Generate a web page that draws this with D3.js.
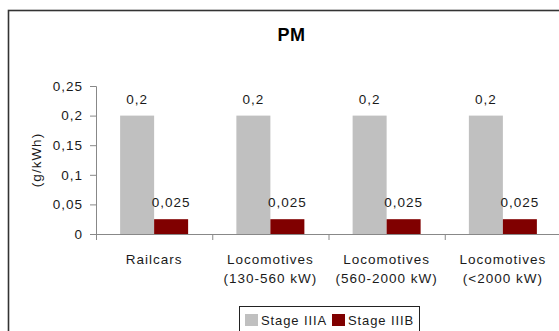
<!DOCTYPE html>
<html><head><meta charset="utf-8">
<script src="https://cdn.jsdelivr.net/npm/d3@7"></script>
<style>body{margin:0;background:#fff}svg{display:block;font-family:"Liberation Sans",Arial,sans-serif}</style>
</head><body><svg id="c" width="559" height="331"></svg>
<script>
const categories = [["Railcars"],["Locomotives","(130-560 kW)"],["Locomotives","(560-2000 kW)"],["Locomotives","(<2000 kW)"]];
const seriesNames = ["Stage IIIA","Stage IIIB"];
const stageIIIA = [0.2,0.2,0.2,0.2];
const stageIIIB = [0.025,0.025,0.025,0.025];
const yTicks = [0,0.05,0.1,0.15,0.2,0.25];
const colors = ["#c0c0c0","#800000"];
const fmt = v => String(v).replace(".", ",");
const FS = 13.5, LS = 1, TXT = "#1a1a1a";

const svg = d3.select("#c");
svg.append("rect").attr("x",8.5).attr("y",10.5).attr("width",560).attr("height",330)
  .attr("fill","#fff").attr("stroke","#333").attr("stroke-width",1.6);

const x = d3.scaleBand().domain(d3.range(categories.length)).range([96,561]).padding(0);
const y = d3.scaleLinear().domain([0,0.25]).range([234,86]);
const sub = d3.scaleBand().domain([0,1]).range([0,68]);

svg.append("text").attr("x",291.5).attr("y",41).attr("text-anchor","middle")
  .attr("font-size",18).attr("font-weight","bold").attr("letter-spacing",0.5).attr("fill","#000").text("PM");

const yAxis = svg.append("g").attr("transform","translate(96,0)")
  .call(d3.axisLeft(y).tickValues(yTicks).tickFormat(fmt).tickSize(6).tickPadding(7));
yAxis.select(".domain").attr("stroke","#888");
yAxis.selectAll(".tick line").attr("stroke","#888");
yAxis.selectAll("text").attr("font-size",FS).attr("letter-spacing",LS).attr("fill",TXT)
  .attr("font-family","Liberation Sans, Arial, sans-serif");

const xAxis = svg.append("g").attr("transform","translate(0,234)")
  .call(d3.axisBottom(x).tickValues([]).tickSizeOuter(0));
xAxis.select(".domain").attr("stroke","#888");
x.domain().concat([categories.length]).forEach(i=>{
  const xx = i<categories.length ? x(i) : x(i-1)+x.bandwidth();
  svg.append("line").attr("x1",xx+0.5).attr("x2",xx+0.5).attr("y1",234).attr("y2",240).attr("stroke","#888");
});

svg.append("text").attr("transform","translate(41,160) rotate(-90)").attr("text-anchor","middle")
  .attr("font-size",FS).attr("letter-spacing",LS).attr("fill",TXT).text("(g/kWh)");

const series = [stageIIIA, stageIIIB];
series.forEach((vals,s)=>{
  const g = svg.append("g");
  vals.forEach((v,i)=>{
    const bx = x(i) + (x.bandwidth()-68)/2 + sub(s);
    g.append("rect").attr("x",bx).attr("y",y(v)).attr("width",sub.bandwidth()).attr("height",y(0)-y(v)).attr("fill",colors[s]);
    g.append("text").attr("x",bx+sub.bandwidth()/2).attr("y",y(v)-12).attr("text-anchor","middle")
      .attr("font-size",FS).attr("letter-spacing",LS).attr("fill",TXT).text(fmt(v));
  });
});

categories.forEach((lines,i)=>{
  lines.forEach((l,j)=>{
    svg.append("text").attr("x",x(i)+x.bandwidth()/2).attr("y",264+j*19).attr("text-anchor","middle")
      .attr("font-size",FS).attr("letter-spacing",LS).attr("fill",TXT).text(l);
  });
});

const lg = svg.append("g");
lg.append("rect").attr("x",239.5).attr("y",306.5).attr("width",180).attr("height",30).attr("fill","#fff").attr("stroke","#222");
const lx = [245,332];
seriesNames.forEach((n,i)=>{
  lg.append("rect").attr("x",lx[i]).attr("y",314).attr("width",13).attr("height",12).attr("fill",colors[i]);
  lg.append("text").attr("x",lx[i]+16).attr("y",325).attr("font-size",13).attr("letter-spacing",0.9).attr("fill",TXT).text(n);
});
</script></body></html>
